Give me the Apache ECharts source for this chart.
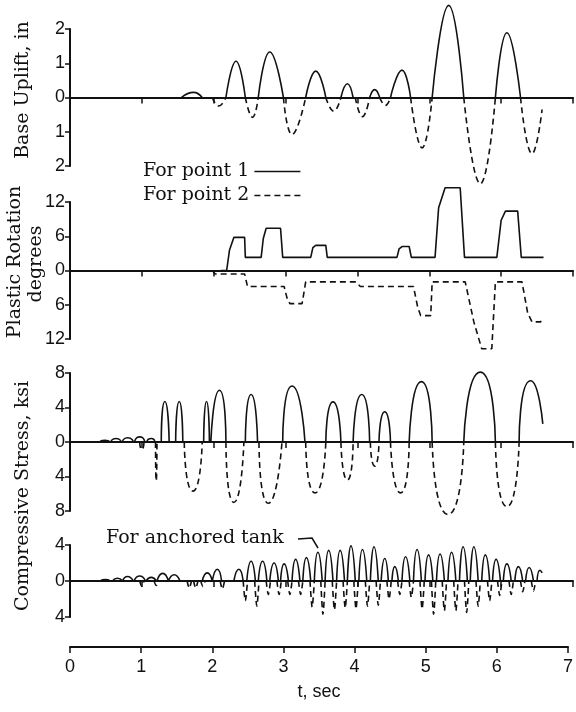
<!DOCTYPE html>
<html>
<head>
<meta charset="utf-8">
<script src="https://cdn.jsdelivr.net/npm/echarts@6/dist/echarts.min.js"></script>
<style>
  html, body { margin: 0; padding: 0; background: #fff; }
  #chart { width: 576px; height: 712px; }
</style>
</head>
<body>
<div id="chart"></div>
<script>
// arches: [start t, peak t, peak value, end t, (end value)]
const upliftPoint1 = [
  [1.55, 1.72, 0.15, 1.84], [2.17, 2.31, 1.06, 2.44], [2.62, 2.78, 1.33, 2.97],
  [3.28, 3.42, 0.77, 3.56], [3.77, 3.86, 0.40, 3.94], [4.17, 4.24, 0.23, 4.31],
  [4.46, 4.62, 0.80, 4.74], [5.04, 5.27, 2.69, 5.48], [5.92, 6.08, 1.89, 6.27]
];
const upliftPoint2 = [
  [1.98, 2.07, -0.25, 2.17], [2.44, 2.54, -0.58, 2.62], [2.97, 3.09, -1.08, 3.28],
  [3.56, 3.67, -0.40, 3.77], [3.97, 4.07, -0.56, 4.17], [4.31, 4.39, -0.23, 4.46],
  [4.74, 4.90, -1.47, 5.04], [5.48, 5.71, -2.52, 5.92], [6.27, 6.43, -1.64, 6.57, -0.35]
];

// plastic rotation, degrees: [t, value]
const rotationPoint1 = [
  [2.1, 0], [2.18, 0], [2.22, 3.6], [2.28, 5.8], [2.43, 5.8], [2.44, 2.3], [2.66, 2.3],
  [2.69, 5.6], [2.73, 7.4], [2.93, 7.4], [2.96, 2.3], [3.35, 2.3], [3.38, 4.0], [3.42, 4.4],
  [3.56, 4.4], [3.58, 2.3], [4.55, 2.3], [4.58, 3.8], [4.62, 4.2], [4.72, 4.2], [4.75, 2.3],
  [5.08, 2.3], [5.13, 11], [5.22, 14.5], [5.43, 14.5], [5.49, 2.3], [5.94, 2.3], [6.0, 8.8],
  [6.06, 10.4], [6.23, 10.4], [6.28, 2.3], [6.59, 2.3]
];
const rotationPoint2 = [
  [1.98, 0], [2.02, -0.6], [2.43, -0.6], [2.47, -2.8], [2.98, -2.8], [3.02, -4.8], [3.06, -5.8],
  [3.23, -5.8], [3.28, -2.0], [3.98, -2.0], [4.04, -2.8], [4.78, -2.8], [4.84, -6.5], [4.88, -7.9],
  [5.02, -7.9], [5.04, -2.0], [5.50, -2.0], [5.62, -9], [5.73, -13.7], [5.87, -13.7], [5.92, -2.0],
  [6.29, -2.0], [6.37, -7.5], [6.43, -9.0], [6.55, -9.0], [6.57, -8.5]
];

const stressPoint1 = [
  [0.42, 0.48, 0.2, 0.55], [0.57, 0.64, 0.4, 0.71], [0.73, 0.80, 0.5, 0.88], [0.90, 0.97, 0.6, 1.04],
  [1.07, 1.13, 0.4, 1.18], [1.27, 1.32, 4.7, 1.38], [1.47, 1.52, 4.7, 1.57], [1.86, 1.90, 4.7, 1.94],
  [1.96, 2.08, 6.0, 2.17], [2.44, 2.52, 5.5, 2.61], [2.96, 3.09, 6.5, 3.27], [3.56, 3.66, 4.65, 3.77],
  [3.94, 4.06, 5.5, 4.17], [4.30, 4.38, 3.5, 4.46], [4.72, 4.89, 7.0, 5.04], [5.48, 5.71, 8.1, 5.92],
  [6.25, 6.41, 7.1, 6.58, 2.1]
];
const stressPoint2 = [
  [0.97, 1.00, -0.9, 1.03], [1.19, 1.20, -4.5, 1.21], [1.59, 1.71, -5.7, 1.84], [2.17, 2.28, -7.0, 2.42],
  [2.63, 2.76, -7.1, 2.95], [3.28, 3.41, -5.9, 3.56], [3.77, 3.86, -4.4, 3.94], [4.18, 4.24, -2.8, 4.30],
  [4.46, 4.60, -5.9, 4.72], [5.04, 5.26, -8.4, 5.48], [5.92, 6.08, -7.5, 6.25]
];

const anchoredPeaks = [
  [0.42, 0.49, 0.15, 0.56], [0.59, 0.66, 0.3, 0.73], [0.73, 0.80, 0.5, 0.88], [0.89, 0.97, 0.55, 1.05],
  [1.06, 1.13, 0.4, 1.20], [1.21, 1.29, 0.85, 1.37], [1.37, 1.45, 0.7, 1.53], [1.84, 1.91, 0.9, 1.98],
  [1.98, 2.05, 1.3, 2.11], [2.28, 2.35, 1.3, 2.41], [2.46, 2.52, 2.2, 2.58], [2.62, 2.68, 2.2, 2.74],
  [2.78, 2.84, 2.0, 2.90], [2.93, 2.98, 1.9, 3.04], [3.09, 3.14, 2.4, 3.20], [3.24, 3.29, 2.6, 3.35],
  [3.40, 3.45, 3.2, 3.51], [3.55, 3.60, 3.4, 3.66], [3.71, 3.76, 3.4, 3.82], [3.86, 3.91, 3.9, 3.97],
  [4.02, 4.07, 3.5, 4.13], [4.18, 4.23, 3.8, 4.29], [4.33, 4.38, 2.5, 4.43], [4.48, 4.52, 1.6, 4.57],
  [4.62, 4.67, 2.7, 4.73], [4.78, 4.83, 3.5, 4.89], [4.94, 4.99, 2.9, 5.05], [5.10, 5.15, 3.0, 5.21],
  [5.26, 5.31, 3.2, 5.37], [5.42, 5.47, 3.8, 5.53], [5.57, 5.62, 3.8, 5.68], [5.73, 5.78, 2.9, 5.84],
  [5.88, 5.93, 2.4, 5.99], [6.03, 6.08, 1.9, 6.14], [6.19, 6.24, 1.6, 6.30], [6.34, 6.39, 1.5, 6.45],
  [6.50, 6.54, 1.2, 6.57, 0.9]
];
const anchoredDips = [
  [0.97, 1.00, -0.6, 1.03], [1.17, 1.20, -0.5, 1.23], [1.63, 1.66, -0.8, 1.69], [1.72, 1.75, -0.8, 1.78],
  [1.82, 1.85, -0.6, 1.88], [2.09, 2.12, -0.9, 2.15], [2.41, 2.44, -2.2, 2.47], [2.57, 2.60, -2.8, 2.63],
  [2.73, 2.76, -1.5, 2.79], [2.88, 2.91, -1.5, 2.94], [3.03, 3.06, -1.5, 3.09], [3.18, 3.21, -1.5, 3.24],
  [3.34, 3.37, -2.9, 3.40], [3.49, 3.52, -3.7, 3.55], [3.65, 3.68, -3.2, 3.71], [3.80, 3.83, -3.0, 3.86],
  [3.95, 3.98, -3.1, 4.01], [4.11, 4.14, -2.8, 4.17], [4.26, 4.29, -2.7, 4.32], [4.41, 4.44, -2.0, 4.47],
  [4.56, 4.59, -1.5, 4.62], [4.72, 4.75, -1.8, 4.78], [4.87, 4.90, -3.1, 4.93], [5.03, 5.06, -3.7, 5.09],
  [5.18, 5.21, -3.3, 5.24], [5.34, 5.37, -3.3, 5.40], [5.49, 5.52, -3.5, 5.55], [5.65, 5.68, -2.8, 5.71],
  [5.81, 5.84, -2.2, 5.87], [5.95, 5.98, -1.6, 6.01], [6.11, 6.14, -1.5, 6.17], [6.27, 6.30, -1.2, 6.33],
  [6.42, 6.45, -1.1, 6.48]
];

const xTicks = [0, 7];
const panelLimits = [2, 12, 8, 4];
const panelSteps = [1, 6, 4, 4];

// arch list -> line data, broken between arches
function archData(list) {
  const pts = [];
  list.forEach(a => {
    pts.push([a[0], 0], [a[1], a[2]], [a[3], a[4] === undefined ? 0 : a[4]], [a[3], null]);
  });
  return pts;
}

const ink = '#111';
const grids = [
  {left: 70, right: 3, top: 29, height: 137},
  {left: 70, right: 3, top: 202, height: 137},
  {left: 70, right: 3, top: 373, height: 138},
  {left: 70, right: 3, top: 545, height: 72},
  {left: 70, right: 3, top: 600, height: 47}
];

const xAxes = [0, 1, 2, 3].map(i => ({
  type: 'value', gridIndex: i, min: xTicks[0], max: xTicks[1], interval: 1,
  axisLine: {onZero: true, lineStyle: {color: ink, width: 2}},
  axisTick: {length: 6, lineStyle: {color: ink, width: 1.5}},
  axisLabel: {show: false},
  splitLine: {show: false}
}));
xAxes.push({
  type: 'value', gridIndex: 4, min: xTicks[0], max: xTicks[1], interval: 1, position: 'bottom',
  axisLine: {onZero: false, lineStyle: {color: ink, width: 2}},
  axisTick: {length: 6, lineStyle: {color: ink, width: 1.5}},
  axisLabel: {fontSize: 18, color: ink, fontFamily: 'Liberation Sans', margin: 11},
  splitLine: {show: false},
  name: 't, sec', nameLocation: 'middle', nameGap: 36,
  nameTextStyle: {fontSize: 18, color: ink, fontFamily: 'Liberation Sans'}
});

const yAxes = panelLimits.map((lim, i) => ({
  type: 'value', gridIndex: i, min: -lim, max: lim, interval: panelSteps[i],
  axisLine: {show: true, onZero: false, lineStyle: {color: ink, width: 2}},
  axisTick: {show: true, length: 5, lineStyle: {color: ink, width: 1.5}},
  axisLabel: {formatter: v => String(Math.abs(v)), fontSize: 18, color: ink, fontFamily: 'Liberation Sans', margin: 5},
  splitLine: {show: false}
}));
yAxes.push({type: 'value', gridIndex: 4, show: false, min: 0, max: 1});

function line(name, idx, data, dashed, smooth) {
  return {
    name: name, type: 'line', xAxisIndex: idx, yAxisIndex: idx, data: data,
    symbol: 'none', smooth: smooth, clip: false, silent: true,
    itemStyle: {color: ink},
    lineStyle: {color: ink, width: 1.6, type: dashed ? [6, 4] : 'solid'}
  };
}

const serif = '19px "DejaVu Serif"';
const chart = echarts.init(document.getElementById('chart'));
chart.setOption({
  animation: false,
  backgroundColor: '#fff',
  grid: grids,
  xAxis: xAxes,
  yAxis: yAxes,
  legend: {
    data: ['For point 1', 'For point 2'],
    orient: 'vertical', align: 'right', left: 138, top: 157,
    itemWidth: 46, itemHeight: 14, itemGap: 5,
    itemStyle: {opacity: 0},
    lineStyle: {color: ink, width: 1.6},
    textStyle: {fontFamily: 'DejaVu Serif', fontSize: 19, color: ink}
  },
  series: [
    line('For point 1', 0, archData(upliftPoint1), false, 0.5),
    line('For point 2', 0, archData(upliftPoint2), true, 0.5),
    line('For point 1', 1, rotationPoint1, false, false),
    line('For point 2', 1, rotationPoint2, true, false),
    line('For point 1', 2, archData(stressPoint1), false, 0.9),
    line('For point 2', 2, archData(stressPoint2), true, 0.9),
    line('anchored 1', 3, archData(anchoredPeaks), false, 0.6),
    line('anchored 2', 3, archData(anchoredDips), true, 0.3)
  ],
  graphic: [
    {type: 'text', x: 23, y: 90, rotation: Math.PI / 2,
      style: {text: 'Base Uplift, in', font: serif, fill: ink, align: 'center', verticalAlign: 'middle'}},
    {type: 'text', x: 15, y: 262, rotation: Math.PI / 2,
      style: {text: 'Plastic Rotation', font: serif, fill: ink, align: 'center', verticalAlign: 'middle'}},
    {type: 'text', x: 36, y: 264, rotation: Math.PI / 2,
      style: {text: 'degrees', font: serif, fill: ink, align: 'center', verticalAlign: 'middle'}},
    {type: 'text', x: 23, y: 496, rotation: Math.PI / 2,
      style: {text: 'Compressive Stress, ksi', font: serif, fill: ink, align: 'center', verticalAlign: 'middle'}},
    {type: 'text', x: 106, y: 538,
      style: {text: 'For anchored tank', font: serif, fill: ink, align: 'left', verticalAlign: 'middle'}},
    {type: 'polyline', shape: {points: [[298, 539], [312, 538], [318, 548]]},
      style: {stroke: ink, lineWidth: 1.5, fill: null}}
  ]
});
</script>
</body>
</html>
